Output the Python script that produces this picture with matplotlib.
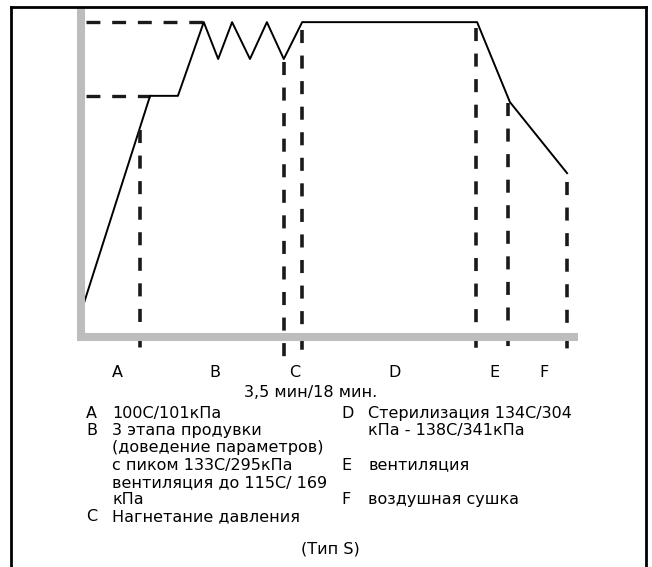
import matplotlib
matplotlib.use('Agg')
from matplotlib import pyplot as plt
from matplotlib.lines import Line2D
from matplotlib.transforms import blended_transform_factory

# Schrift und Strichmuster
plt.rcParams['font.family'] = ['DejaVu Sans']
plt.rcParams['lines.scale_dashes'] = False

# Druckprofil (Zeit / Druck in willkürlichen Einheiten, 0..100)
profil_t = [0.0, 13.9, 19.5, 24.7, 27.6, 30.4, 34.0, 37.4, 40.8, 44.5, 79.7, 86.3, 97.8]
profil_p = [7.5, 73.3, 73.3, 95.7, 84.5, 95.7, 84.5, 95.7, 84.5, 95.7, 95.7, 71.4, 49.8]

# Hilfslinien Druckniveaus: Niveau und Ende
niveau_p = [95.7, 73.3]
niveau_t_ende = [24.7, 13.9]

# Phasengrenzen (senkrechte Strichlinien): Zeit und oberes Ende
grenze_t = [11.9, 40.8, 44.5, 79.5, 85.9, 97.8]
grenze_oben = [62.9, 83.6, 93.3, 93.9, 71.1, 47.1]
grenze_unten = -6.1

# Phasen-Beschriftung unter der Achse
phasen = ['A', 'B', 'C', 'D', 'E', 'F']
phasen_t = [7.4, 27.0, 42.9, 63.0, 83.1, 93.2]

zeit_text = '3,5 мин/18 мин.'

legende_links = [
    ('A', ['100C/101кПа']),
    ('B', ['3 этапа продувки', '(доведение параметров)', 'с пиком 133C/295кПа',
           'вентиляция до 115C/ 169', 'кПа']),
    ('C', ['Нагнетание давления']),
]
legende_rechts = [
    ('D', ['Стерилизация 134C/304', 'кПа - 138C/341кПа'], 0),
    ('E', ['вентиляция'], 3),
    ('F', ['воздушная сушка'], 5),
]
typ_text = '(Тип S)'

W, H = 652, 567
fig = plt.figure(figsize=(W / 100, H / 100), dpi=100)


def px(x, y):
    return x / W, 1 - y / H


# Rahmen (unten offen)
for xs, ys in [([11, 11], [H, 7]), ([11, 646], [7, 7]), ([646, 646], [7, H])]:
    fig.add_artist(Line2D([x / W for x in xs], [1 - y / H for y in ys],
                          color='black', lw=2.0, solid_capstyle='projecting'))

# Diagramm
ax = fig.add_axes([81 / W, 1 - 337 / H, 497 / W, 329 / H])
ax.set_xlim(0, 100)
ax.set_ylim(0, 100)
ax.axis('off')

grau = '#BDBDBD'
ax.plot([0, 0], [-1.2, 100], color=grau, lw=5.8, solid_capstyle='butt', clip_on=False, zorder=5)
ax.plot([-0.8, 100], [0, 0], color=grau, lw=5.8, solid_capstyle='butt', clip_on=False, zorder=5)

ax.plot(profil_t, profil_p, color='black', lw=1.4, clip_on=False, zorder=3)

for p, t_ende in zip(niveau_p, niveau_t_ende):
    ax.plot([1.0, t_ende], [p, p], color='#1a1a1a', lw=2.4,
            linestyle=(0, (10, 8.5)), dash_capstyle='butt', clip_on=False, zorder=2)

for t, oben in zip(grenze_t, grenze_oben):
    ax.plot([t, t], [oben, grenze_unten], color='#1a1a1a', lw=2.6,
            linestyle=(0, (9.4, 9.0)), dash_capstyle='butt', clip_on=False, zorder=4)

fs = 11.5
trans = blended_transform_factory(ax.transData, fig.transFigure)
for name, t in zip(phasen, phasen_t):
    ax.text(t, 1 - 377 / H, name, transform=trans, fontsize=fs, ha='center', va='baseline')

fig.text(*px(311, 397), zeit_text, fontsize=fs, ha='center', va='baseline')

zeile = 17.2
y0 = 418
i = 0
for buchstabe, zeilen in legende_links:
    fig.text(*px(86, y0 + i * zeile), buchstabe, fontsize=fs, va='baseline')
    for z in zeilen:
        fig.text(*px(112, y0 + i * zeile), z, fontsize=fs, va='baseline')
        i += 1

for buchstabe, zeilen, start in legende_rechts:
    fig.text(*px(341, y0 + start * zeile), buchstabe, fontsize=fs, va='baseline')
    for k, z in enumerate(zeilen):
        fig.text(*px(368, y0 + (start + k) * zeile), z, fontsize=fs, va='baseline')

fig.text(*px(301, 554), typ_text, fontsize=fs, va='baseline')

fig.savefig('out.png', dpi=100, facecolor='white')
